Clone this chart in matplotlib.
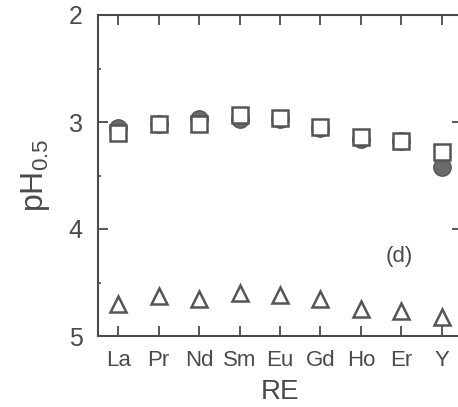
"""pH0.5 of rare earth elements, panel (d)."""
import matplotlib
matplotlib.use("Agg")
import matplotlib.pyplot as plt
from matplotlib.ticker import MultipleLocator

elements = ["La", "Pr", "Nd", "Sm", "Eu", "Gd", "Ho", "Er", "Y"]
ph_square = [3.10, 3.02, 3.02, 2.93, 2.96, 3.05, 3.14, 3.18, 3.28]
ph_circle = [3.06, 3.02, 2.97, 2.97, 2.97, 3.06, 3.16, 3.18, 3.42]
ph_triangle = [4.70, 4.63, 4.65, 4.60, 4.62, 4.65, 4.75, 4.77, 4.82]

plt.rcParams["font.family"] = ["Liberation Sans", "DejaVu Sans"]
plt.rcParams["mathtext.default"] = "regular"

ink = "#4a4a4a"
W, H = 458, 407
fig = plt.figure(figsize=(W / 100, H / 100), dpi=100)
# axes box in pixels: left 98, top 15, bottom 336, right edge cut off by image
ax = fig.add_axes([98 / W, 1 - 336 / H, 364 / W, 321 / H])

x = list(range(len(elements)))
# circles sit behind the (white-filled) squares
ax.plot(x, ph_circle, "o", ms=12.5, mfc="#6a6a6a", mec="#555555", mew=1.0, zorder=2)
ax.plot(x, ph_square, "s", ms=11, mfc="white", mec="#555555", mew=1.8, zorder=3)
ax.plot(x, ph_triangle, "^", ms=11, mfc="white", mec="#555555", mew=1.8, zorder=3)

ax.set_xlim(-0.5, 8.5)
ax.set_ylim(5, 2)
ax.set_xticks(x)
ax.set_xticklabels(elements)
ax.yaxis.set_major_locator(MultipleLocator(1))
ax.yaxis.set_minor_locator(MultipleLocator(0.5))

for s in ax.spines.values():
    s.set_color(ink)
    s.set_linewidth(1.5)
ax.tick_params(axis="both", which="major", direction="in", length=7, width=1.3,
               color=ink, labelcolor=ink, top=True, right=True)
ax.tick_params(axis="y", which="major", labelsize=18, pad=11)
ax.tick_params(axis="x", which="major", labelsize=16, pad=10)
ax.tick_params(axis="y", which="minor", direction="in", length=2, width=1.2,
               color=ink, right=True)

ax.set_xlabel("RE", fontsize=20, color=ink, labelpad=6)
ax.set_ylabel("pH$_{0.5}$", fontsize=23, color=ink, labelpad=12)
ax.text(6.95, 4.26, "(d)", fontsize=16, color=ink, ha="center", va="center")

fig.savefig("out.png", dpi=100)
